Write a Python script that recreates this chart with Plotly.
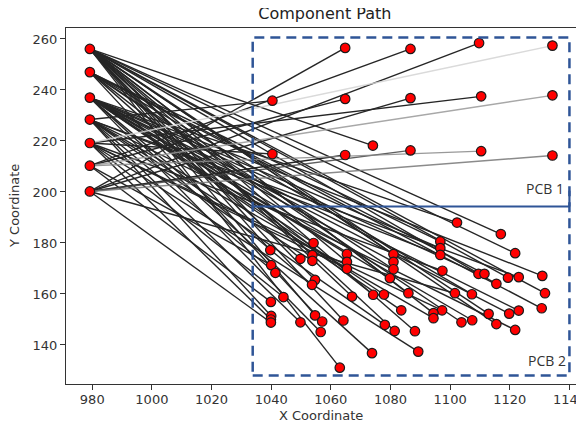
import plotly.graph_objects as go

# ---------------- data ----------------
feeder_x = 979.2
feeder_y = [256.1, 247.0, 237.0, 228.4, 219.2, 210.3, 200.2]

# PCB 1 placement points and the feeder (index into feeder_y) each is fed from
pcb1_x = [1040.4, 1040.4, 1064.8, 1064.8, 1064.8, 1074.1, 1086.7, 1086.7, 1086.7,
          1109.7, 1110.4, 1110.4, 1134.3, 1134.3, 1134.3]
pcb1_y = [235.8, 214.9, 256.5, 236.5, 214.5, 218.2, 256.1, 236.8, 216.3,
          258.4, 237.5, 216.0, 257.4, 237.9, 214.3]
pcb1_feeder = [3, 4, 6, 5, 6, 0, 5, 6, 6, 6, 4, 5, 4, 5, 6]

# PCB 2 placement points and their feeders
pcb2_x = [1039.7, 1054.2, 1049.8, 1053.8, 1053.8, 1065.4, 1065.4, 1065.4, 1081.0, 1081.0,
          1081.0, 1040.0, 1041.4, 1054.7, 1053.7, 1079.8, 1044.1, 1039.9, 1067.1, 1074.2,
          1077.8, 1040.0, 1039.9, 1039.9, 1054.7, 1049.8, 1057.1, 1056.6, 1064.2, 1078.1,
          1081.4, 1073.8, 1063.0, 1102.3, 1117.0, 1096.7, 1096.7, 1096.7, 1121.8, 1097.4,
          1109.5, 1111.5, 1119.4, 1123.0, 1130.9, 1115.5, 1086.0, 1101.6, 1107.3, 1131.8,
          1083.6, 1097.3, 1094.4, 1094.4, 1103.8, 1107.4, 1112.9, 1119.8, 1123.0, 1130.7,
          1115.5, 1121.8, 1088.2, 1089.3]
pcb2_y = [177.2, 180.0, 173.8, 175.2, 173.0, 175.7, 172.6, 169.9, 175.6, 172.6,
          169.7, 171.3, 168.3, 165.5, 163.6, 166.2, 158.8, 156.9, 159.0, 159.7,
          159.8, 151.4, 150.0, 148.8, 151.6, 148.9, 149.2, 145.1, 149.6, 147.9,
          145.5, 136.8, 131.1, 188.0, 183.5, 180.6, 178.0, 175.3, 176.0, 169.1,
          167.9, 167.9, 166.4, 166.6, 167.1, 164.0, 160.3, 160.3, 159.9, 160.3,
          153.6, 153.6, 152.5, 150.5, 148.9, 149.7, 152.2, 152.3, 153.5, 154.4,
          148.2, 145.9, 145.4, 137.4]
pcb2_feeder = [0, 2, 1, 0, 3, 2, 0, 4, 0, 2,
               1, 5, 3, 0, 2, 2, 4, 5, 0, 1,
               2, 3, 4, 6, 0, 3, 1, 2, 0, 3,
               0, 2, 0, 2, 0, 1, 2, 3, 0, 4,
               2, 1, 0, 3, 2, 0, 0, 6, 1, 0,
               2, 4, 0, 3, 1, 2, 0, 2, 2, 1,
               0, 3, 0, 4]

x_ticks = [980, 1000, 1020, 1040, 1060, 1080, 1100, 1120, 1140]
y_ticks = [140, 160, 180, 200, 220, 240, 260]

# ---------------- styles ----------------
pcb1_line_colors = {8: "#444444", 11: "#888888", 12: "#d4d4d4", 13: "#999999", 14: "#777777"}
BOX = "#2f5597"
FONT = "DejaVu Sans"
LINE = "#000000"

fig = go.Figure()

groups = {}
for i, (px, py, f) in enumerate(zip(pcb1_x, pcb1_y, pcb1_feeder)):
    c = pcb1_line_colors.get(i, LINE)
    groups.setdefault(c, ([], []))
    groups[c][0].extend([feeder_x, px, None])
    groups[c][1].extend([feeder_y[f], py, None])
for px, py, f in zip(pcb2_x, pcb2_y, pcb2_feeder):
    groups.setdefault(LINE, ([], []))
    groups[LINE][0].extend([feeder_x, px, None])
    groups[LINE][1].extend([feeder_y[f], py, None])

for c, (xs, ys) in groups.items():
    fig.add_trace(go.Scatter(x=xs, y=ys, mode="lines",
                             line=dict(color=c, width=1.4), hoverinfo="skip",
                             opacity=0.85, showlegend=False))

all_x = [feeder_x] * len(feeder_y) + pcb1_x + pcb2_x
all_y = feeder_y + pcb1_y + pcb2_y
fig.add_trace(go.Scatter(x=all_x, y=all_y, mode="markers",
                         marker=dict(color="#ff0000", size=9.5,
                                     line=dict(color="#1a1a1a", width=1.2)),
                         showlegend=False))

# PCB outlines
fig.add_shape(type="rect", x0=1033.8, x1=1140.0, y0=128.0, y1=260.6,
              line=dict(color=BOX, width=2.5, dash="10px,6px"))
fig.add_shape(type="line", x0=1033.8, x1=1140.0, y0=194.3, y1=194.3,
              line=dict(color=BOX, width=2.2))
fig.add_shape(type="line", x0=1140.0, x1=1140.0, y0=194.3, y1=200.5,
              line=dict(color=BOX, width=2.2))

fig.add_annotation(x=1138.7, y=197.05, text="PCB 1", showarrow=False,
                   xanchor="right", yanchor="bottom",
                   font=dict(family="Open Sans", size=14, color="#333333"))
fig.add_annotation(x=1139.5, y=129.5, text="PCB 2", showarrow=False,
                   xanchor="right", yanchor="bottom",
                   font=dict(family="Open Sans", size=14, color="#333333"))

# axis titles
fig.add_annotation(xref="paper", yref="paper", x=0.5, y=-0.088, text="X Coordinate",
                   showarrow=False, xanchor="center", yanchor="middle",
                   font=dict(family=FONT, size=13, color="#333333"))
fig.add_annotation(xref="paper", yref="paper", x=-0.102, y=0.5, text="Y Coordinate",
                   showarrow=False, xanchor="center", yanchor="middle", textangle=-90,
                   font=dict(family=FONT, size=13, color="#333333"))

axis_common = dict(showgrid=False, zeroline=False, showline=True, mirror=True,
                   linecolor="#333333", linewidth=1, ticks="outside", ticklen=5,
                   tickwidth=1, tickcolor="#333333", automargin=False,
                   ticklabeloverflow="allow",
                   tickfont=dict(family=FONT, size=13, color="#333333"))

# the page body keeps its default 8px margin, so the figure is 8px smaller
# and its margins are reduced accordingly
fig.update_layout(
    width=576, height=422,
    margin=dict(l=58, r=8, t=20, b=46),
    paper_bgcolor="white", plot_bgcolor="white",
    title=dict(text="Component Path", x=0.5501, xanchor="center",
               y=0.9865, yanchor="middle",
               font=dict(family=FONT, size=16, color="#222222")),
    xaxis=dict(range=[971.2, 1142.2], tickvals=x_ticks, ticklabelstandoff=-2,
               **axis_common),
    yaxis=dict(range=[124.7, 264.3], tickvals=y_ticks, **axis_common),
)

fig.write_html("out.html")
